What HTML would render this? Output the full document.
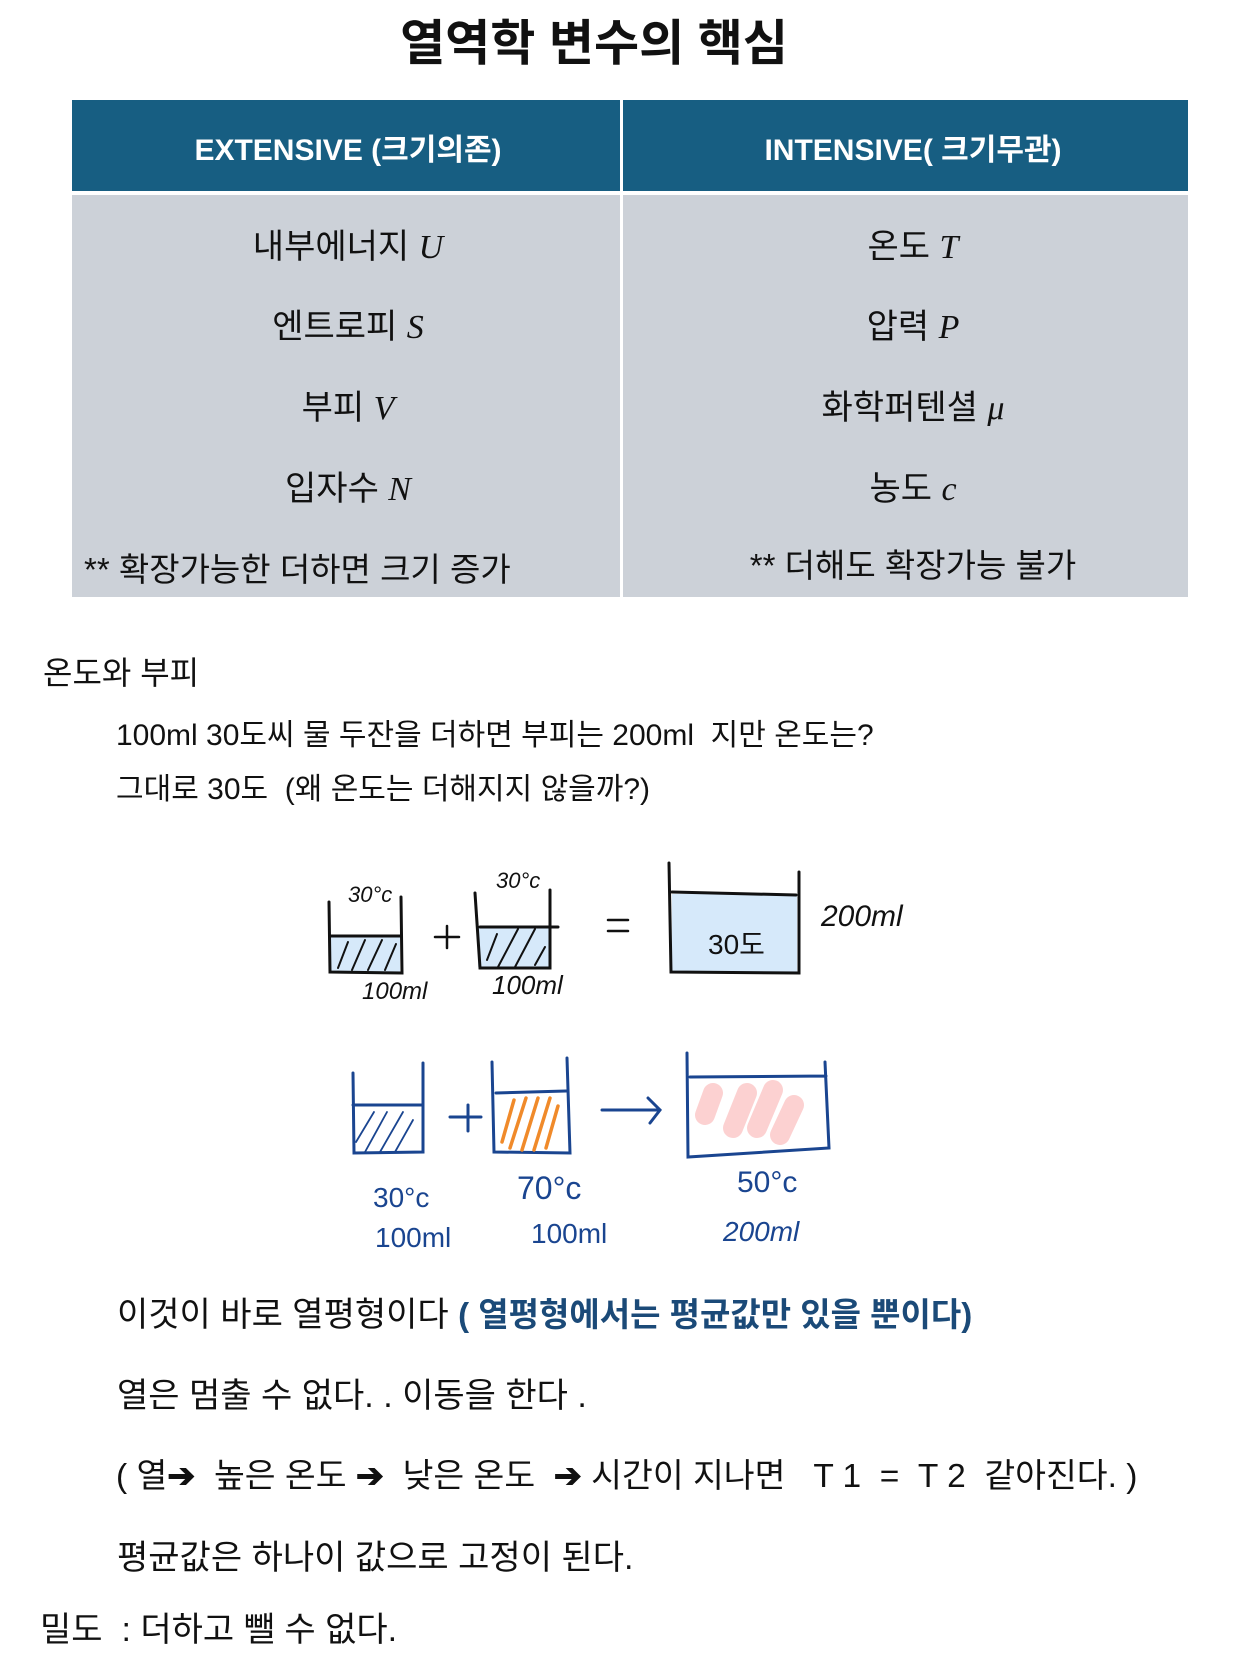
<!DOCTYPE html>
<html><head><meta charset="utf-8"><style>
body{margin:0;width:1260px;height:1680px;background:#fff;position:relative;font-family:"Liberation Sans","Noto Sans CJK KR",sans-serif;color:#111;overflow:hidden}
.a{position:absolute;white-space:nowrap;line-height:1}
.c{transform:translateX(-50%)}
i{font-family:"Liberation Serif",serif}
</style></head><body>
<div class="a c" style="left:594px;top:20px;font-size:49px;font-weight:bold">열역학 변수의 핵심</div>
<div class="a" style="left:72px;top:100px;width:548px;height:91px;background:#175e82"></div>
<div class="a" style="left:623px;top:100px;width:565px;height:91px;background:#175e82"></div>
<div class="a" style="left:72px;top:195px;width:548px;height:402px;background:#ccd1d8"></div>
<div class="a" style="left:623px;top:195px;width:565px;height:402px;background:#ccd1d8"></div>
<div class="a c" style="left:348px;top:136px;font-size:30px;font-weight:bold;color:#fff">EXTENSIVE (크기의존)</div>
<div class="a c" style="left:913px;top:136px;font-size:30px;font-weight:bold;color:#fff">INTENSIVE( 크기무관)</div>
<div class="a c" style="left:348px;top:230px;font-size:34px">내부에너지 <i>U</i></div>
<div class="a c" style="left:348px;top:310px;font-size:34px">엔트로피 <i>S</i></div>
<div class="a c" style="left:348px;top:391px;font-size:34px">부피 <i>V</i></div>
<div class="a c" style="left:348px;top:472px;font-size:34px">입자수 <i>N</i></div>
<div class="a" style="left:84px;top:553px;font-size:33px">** 확장가능한 더하면 크기 증가</div>
<div class="a c" style="left:913px;top:230px;font-size:34px">온도 <i>T</i></div>
<div class="a c" style="left:913px;top:310px;font-size:34px">압력 <i>P</i></div>
<div class="a c" style="left:913px;top:391px;font-size:34px">화학퍼텐셜 <i>μ</i></div>
<div class="a c" style="left:913px;top:472px;font-size:34px">농도 <i>c</i></div>
<div class="a c" style="left:913px;top:549px;font-size:33px">** 더해도 확장가능 불가</div>

<div class="a" style="left:43px;top:657px;font-size:32px">온도와 부피</div>
<div class="a" style="left:116px;top:721px;font-size:30px">100ml 30도씨 물 두잔을 더하면 부피는 200ml &nbsp;지만 온도는?</div>
<div class="a" style="left:116px;top:775px;font-size:30px">그대로 30도 &nbsp;(왜 온도는 더해지지 않을까?)</div>

<svg class="a" style="left:0;top:0" width="1260" height="1680" fill="none" stroke-linecap="round">
<g stroke="#111" stroke-width="3">
<rect x="330" y="936" width="70" height="36" fill="#d6e9fa" stroke="none"/>
<path d="M329 902 L330 972 L402 973 L401 897 M330 936 L400 936"/>
<path d="M338 968l10-26 M352 970l13-30 M368 970l14-30 M385 970l11-26" stroke-width="2"/>
<rect x="478" y="927" width="72" height="40" fill="#d6e9fa" stroke="none"/>
<path d="M475 893 L480 968 L550 968 L550 890 M480 927 L558 927"/>
<path d="M487 960l10-26 M498 967l20-38 M515 967l20-38 M535 965l10-18" stroke-width="2"/>
<path d="M447 926v22 M435 937h24" stroke-width="2.5"/>
<path d="M608 920h20 M608 931h20" stroke-width="2.5"/>
<rect x="672" y="894" width="125" height="78" fill="#d6e9fa" stroke="none"/>
<path d="M669 863 L671 972 L799 973 L799 872 M672 892 L796 895"/>
</g>
<g stroke="#1a4590" stroke-width="3">
<path d="M353 1073 L354 1153 L423 1152 L423 1063 M353 1105 L423 1105"/>
<path d="M356 1142l18-30 M365 1152l22-40 M380 1152l23-40 M395 1152l18-32" stroke-width="1.8"/>
<path d="M450 1117h31 M468 1105v26"/>
<path d="M492 1062 L494 1152 L570 1153 L567 1058 M496 1093 L566 1091"/>
<path d="M502 1142l12-42 M510 1148l16-50 M522 1150l16-52 M534 1150l16-52 M546 1148l12-42" stroke="#f08a2a" stroke-width="3.5"/>
<path d="M602 1110h58 M648 1098l12 12-10 13"/>
<path d="M705 1115l8-22 M733 1128l14-35 M757 1128l16-38 M780 1135l14-30" stroke="#fbc6c6" stroke-width="20" opacity=".8"/>
<path d="M687 1053 L688 1157 L829 1148 L825 1062 M690 1077 L826 1076"/>
</g>
</svg>
<div class="a" style="left:708px;top:931px;font-size:28px">30도</div>
<div class="a" style="left:348px;top:882px;font:italic 22px 'Liberation Sans',sans-serif">30°c</div>
<div class="a" style="left:496px;top:868px;font:italic 22px 'Liberation Sans',sans-serif">30°c</div>
<div class="a" style="left:362px;top:978px;font:italic 24px 'Liberation Sans',sans-serif">100ml</div>
<div class="a" style="left:492px;top:970px;font:italic 26px 'Liberation Sans',sans-serif">100ml</div>
<div class="a" style="left:821px;top:900px;font:italic 30px 'Liberation Sans',sans-serif">200ml</div>
<div class="a" style="left:373px;top:1182px;font:28px 'Liberation Sans',sans-serif;color:#1a4590">30°c</div>
<div class="a" style="left:375px;top:1222px;font:28px 'Liberation Sans',sans-serif;color:#1a4590">100ml</div>
<div class="a" style="left:517px;top:1170px;font:32px 'Liberation Sans',sans-serif;color:#1a4590">70°c</div>
<div class="a" style="left:531px;top:1218px;font:28px 'Liberation Sans',sans-serif;color:#1a4590">100ml</div>
<div class="a" style="left:737px;top:1166px;font:30px 'Liberation Sans',sans-serif;color:#1a4590">50°c</div>
<div class="a" style="left:723px;top:1216px;font:italic 28px 'Liberation Sans',sans-serif;color:#1a4590">200ml</div>

<div class="a" style="left:117px;top:1298px;font-size:34px">이것이 바로 열평형이다 <b style="color:#1b4a78;font-size:33px">( 열평형에서는 평균값만 있을 뿐이다)</b></div>
<div class="a" style="left:117px;top:1379px;font-size:34px">열은 멈출 수 없다. . 이동을 한다 .</div>
<div class="a" style="left:116px;top:1460px;font-size:33.5px">( 열<b>➔</b> &nbsp;높은 온도 <b>➔</b> &nbsp;낮은 온도 &nbsp;<b>➔</b> 시간이 지나면 &nbsp; T 1 &nbsp;= &nbsp;T 2 &nbsp;같아진다. )</div>
<div class="a" style="left:117px;top:1541px;font-size:34px">평균값은 하나이 값으로 고정이 된다.</div>
<div class="a" style="left:40px;top:1613px;font-size:34px">밀도 &nbsp;: 더하고 뺄 수 없다.</div>
</body></html>
